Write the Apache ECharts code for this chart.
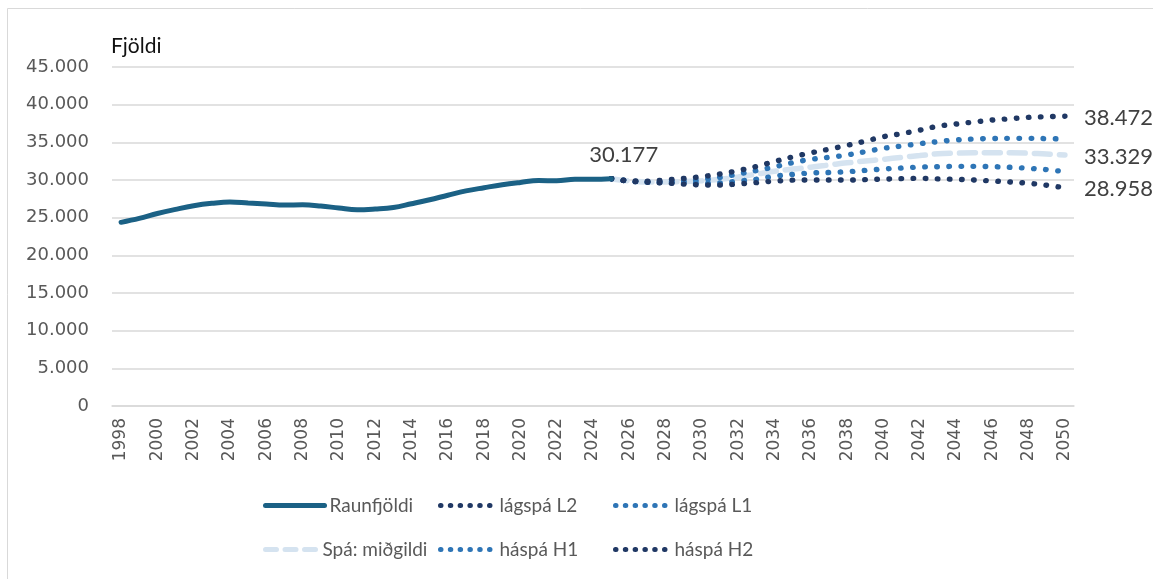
<!DOCTYPE html>
<html>
<head>
<meta charset="utf-8">
<script src="https://cdn.jsdelivr.net/npm/echarts@6/dist/echarts.min.js"></script>
<style>
  html, body { margin: 0; padding: 0; background: #fff; }
  #chart { width: 1153px; height: 579px; }
</style>
</head>
<body>
<div id="chart"></div>
<script>
// ár (flokkar)
const years = ['1998', '1999', '2000', '2001', '2002', '2003', '2004', '2005', '2006', '2007',
  '2008', '2009', '2010', '2011', '2012', '2013', '2014', '2015', '2016', '2017',
  '2018', '2019', '2020', '2021', '2022', '2023', '2024', '2025', '2026', '2027',
  '2028', '2029', '2030', '2031', '2032', '2033', '2034', '2035', '2036', '2037',
  '2038', '2039', '2040', '2041', '2042', '2043', '2044', '2045', '2046', '2047',
  '2048', '2049', '2050']

// raunfjöldi 1998-2025
const raunfjoldi = [24380, 24900, 25550, 26100, 26580, 26900, 27080, 26950, 26820, 26680,
  26700, 26550, 26280, 26050, 26150, 26350, 26850, 27380, 27980, 28550,
  28980, 29380, 29680, 29930, 29900, 30100, 30090, 30177]

// spár 2025-2050
const lagspaL2 = [30177, 29850, 29700, 29600, 29450, 29350, 29330, 29480, 29650, 29850,
  29980, 30000, 30000, 29990, 30050, 30120, 30180, 30220, 30150, 30090,
  30000, 29870, 29730, 29560, 29300, 28958]
const lagspaL1 = [30177, 29850, 29720, 29650, 29600, 29560, 29620, 29850, 30100, 30500,
  30750, 30930, 30990, 31100, 31280, 31460, 31590, 31720, 31770, 31810,
  31810, 31770, 31680, 31550, 31370, 31100]
const midgildi = [30177, 29870, 29720, 29750, 29800, 29900, 30100, 30400, 30780, 31150,
  31450, 31700, 31990, 32280, 32520, 32750, 33000, 33250, 33480, 33560,
  33620, 33630, 33620, 33560, 33450, 33329]
const haspaH1 = [30177, 29880, 29750, 29800, 29880, 30050, 30350, 30800, 31250, 31750,
  32300, 32740, 33010, 33320, 33760, 34200, 34510, 34820, 35090, 35310,
  35440, 35510, 35530, 35530, 35490, 35440]
const haspaH2 = [30177, 29900, 29850, 30000, 30200, 30450, 30800, 31250, 31800, 32450,
  33070, 33600, 34090, 34600, 35150, 35750, 36150, 36620, 37130, 37430,
  37700, 37960, 38140, 38320, 38400, 38472]

const spaStart = years.indexOf('2025')

function fmt (v) {
  return String(v).replace(/\B(?=(\d{3})+(?!\d))/g, '.')
}

const navy = '#203864'
const midBlue = '#2e75b6'
const light = '#d5e3f0'
const teal = '#1b6185'

// merki við enda spárlína
const endLabel = {
  show: true,
  distance: 19,
  offset: [0, 1.5],
  fontFamily: 'Lato',
  fontSize: 22,
  color: '#404040',
  formatter: (p) => fmt(p.value)
}

// spá-gögn: tóm fram að 2025
function spaData (vals) {
  return new Array(spaStart).fill('-').concat(vals)
}

function dotted (color) {
  return { color: color, width: 5.4, type: [0.5, 11.6], cap: 'round' }
}

const chart = echarts.init(document.getElementById('chart'), null, { renderer: 'canvas' })

function legendAt (name, left, top, width, line) {
  return {
    data: [name],
    left: left,
    top: top,
    padding: 0,
    itemWidth: width,
    itemHeight: 14,
    itemGap: 6,
    itemStyle: { opacity: 0 },
    lineStyle: line,
    textStyle: { fontFamily: 'Lato', fontSize: 19, color: '#595959' }
  }
}

function legendDots (color) {
  return { color: color, width: 5, type: [0.5, 9.3], cap: 'round' }
}

const option = {
  animation: false,
  backgroundColor: '#fff',
  title: {
    text: 'Fjöldi',
    left: 111,
    top: 36,
    padding: 0,
    textStyle: { fontFamily: 'Lato', fontSize: 21, fontWeight: 'normal', color: '#111' }
  },
  graphic: [
    {
      type: 'rect',
      silent: true,
      shape: { x: 7.5, y: 8.5, width: 1170, height: 600 },
      style: { fill: 'none', stroke: '#d9d9d9', lineWidth: 1 }
    }
  ],
  legend: [
    legendAt('Raunfjöldi', 263, 496, 59, { color: teal, width: 5, type: 'solid', cap: 'round' }),
    legendAt('lágspá L2', 438, 496, 54, legendDots(navy)),
    legendAt('lágspá L1', 613, 496, 54, legendDots(midBlue)),
    legendAt('Spá: miðgildi', 263, 540, 52, { color: light, width: 5, type: [11, 8.5], cap: 'round' }),
    legendAt('háspá H1', 438, 540, 54, legendDots(midBlue)),
    legendAt('háspá H2', 613, 540, 54, legendDots(navy))
  ],
  grid: {
    left: 112,
    right: 79,
    top: 67,
    bottom: 173
  },
  xAxis: {
    type: 'category',
    data: years,
    boundaryGap: true,
    axisLine: { lineStyle: { color: '#d9d9d9', width: 1.5 } },
    axisTick: { show: false },
    axisLabel: {
      interval: 1,
      rotate: 90,
      margin: 12,
      fontFamily: 'DejaVu Sans',
      fontSize: 17,
      color: '#595959'
    }
  },
  yAxis: {
    type: 'value',
    min: 0,
    max: 45000,
    interval: 5000,
    axisLine: { show: false },
    axisTick: { show: false },
    splitLine: { lineStyle: { color: '#d9d9d9', width: 1.5 } },
    axisLabel: {
      margin: 23,
      fontFamily: 'DejaVu Sans',
      fontSize: 18,
      color: '#595959',
      formatter: (v) => fmt(v)
    }
  },
  series: [
    {
      name: 'Spá: miðgildi',
      type: 'line',
      smooth: 0.4,
      symbol: 'none',
      lineStyle: { color: light, width: 5.5, type: [16, 9], cap: 'round' },
      itemStyle: { color: light },
      endLabel: endLabel,
      data: spaData(midgildi)
    },
    {
      name: 'lágspá L1',
      type: 'line',
      smooth: 0.4,
      symbol: 'none',
      lineStyle: dotted(midBlue),
      itemStyle: { color: midBlue },
      data: spaData(lagspaL1)
    },
    {
      name: 'háspá H1',
      type: 'line',
      smooth: 0.4,
      symbol: 'none',
      lineStyle: dotted(midBlue),
      itemStyle: { color: midBlue },
      data: spaData(haspaH1)
    },
    {
      name: 'lágspá L2',
      type: 'line',
      smooth: 0.4,
      symbol: 'none',
      lineStyle: dotted(navy),
      itemStyle: { color: navy },
      endLabel: endLabel,
      data: spaData(lagspaL2)
    },
    {
      name: 'háspá H2',
      type: 'line',
      smooth: 0.4,
      symbol: 'none',
      lineStyle: dotted(navy),
      itemStyle: { color: navy },
      endLabel: endLabel,
      data: spaData(haspaH2)
    },
    {
      name: 'Raunfjöldi',
      type: 'line',
      smooth: 0.4,
      symbol: 'none',
      lineStyle: { color: teal, width: 5, cap: 'round' },
      itemStyle: { color: teal },
      endLabel: {
        show: true,
        distance: 0,
        offset: [-22, -24],
        fontFamily: 'Lato',
        fontSize: 22,
        color: '#404040',
        formatter: (p) => fmt(p.value)
      },
      data: raunfjoldi
    }
  ]
}

chart.setOption(option)
</script>
</body>
</html>
